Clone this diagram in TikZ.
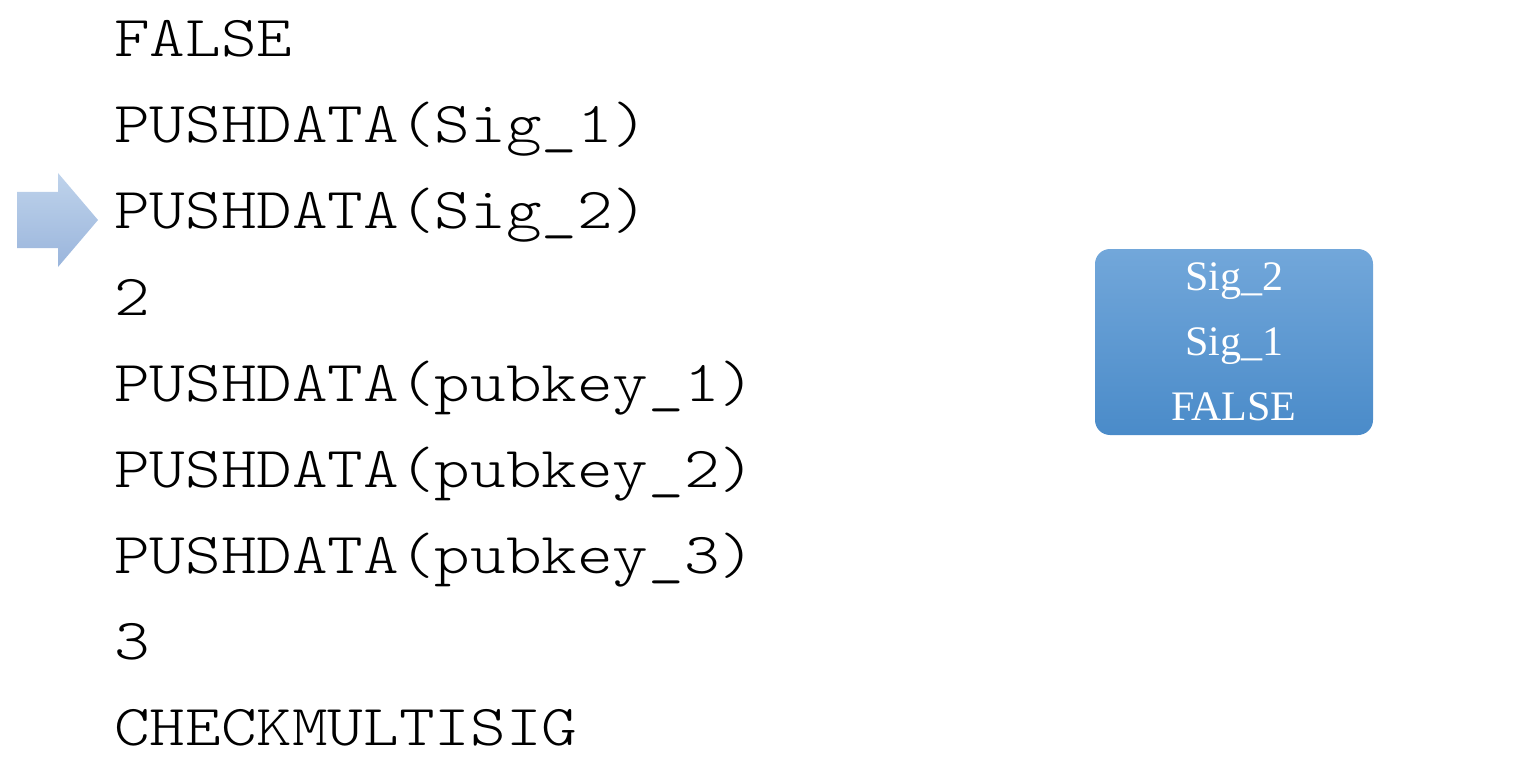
\documentclass[tikz,border=0pt]{standalone}
\usepackage{fontspec}
\setmainfont{Liberation Serif}
\newcommand\codetext[1]{\scalebox{1.17}[1]{\ttfamily\fontseries{l}\fontsize{58}{58}\selectfont #1}}
\begin{document}
\begin{tikzpicture}[x=1pt,y=-1pt,
  codeline/.style={anchor=base west,inner sep=0pt,text=black},
  stackbox/.style={rounded corners=15pt,top color=stacktop,bottom color=stackbot,draw=none,minimum width=278pt,minimum height=186pt,inner sep=0pt},
  stacktext/.style={anchor=base,inner sep=0pt,text=white,font=\fontsize{42}{42}\selectfont},
  pointer/.style={top color=arrtop,bottom color=arrbot,draw=none}]
\definecolor{stacktop}{HTML}{72A7DA}
\definecolor{stackbot}{HTML}{4A8BC9}
\definecolor{arrtop}{HTML}{BFD3EB}
\definecolor{arrbot}{HTML}{9AB5DC}
\useasboundingbox (0,0) rectangle (1520,778);
% code lines
\node[codeline] (l1) at (114,57) {\codetext{FALSE}};
\node[codeline] (l2) at (114,143) {\codetext{PUSHDATA(Sig\_1)}};
\node[codeline] (l3) at (114,229) {\codetext{PUSHDATA(Sig\_2)}};
\node[codeline] (l4) at (114,315) {\codetext{2}};
\node[codeline] (l5) at (114,401) {\codetext{PUSHDATA(pubkey\_1)}};
\node[codeline] (l6) at (114,487) {\codetext{PUSHDATA(pubkey\_2)}};
\node[codeline] (l7) at (114,573) {\codetext{PUSHDATA(pubkey\_3)}};
\node[codeline] (l8) at (114,659) {\codetext{3}};
\node[codeline] (l9) at (114,745) {\codetext{CHECKMULTISIG}};
% pointer arrow
\shade[pointer] (17,192) -- (58,192) -- (58,173) -- (98,220) -- (58,267) -- (58,248) -- (17,248) -- cycle;
% stack
\node[stackbox] (stack) at (1234,342) {};
\node[stacktext] (s1) at (1234,290) {Sig\_2};
\node[stacktext] (s2) at (1234,355) {Sig\_1};
\node[stacktext] (s3) at (1234,420) {FALSE};
\end{tikzpicture}
\end{document}
